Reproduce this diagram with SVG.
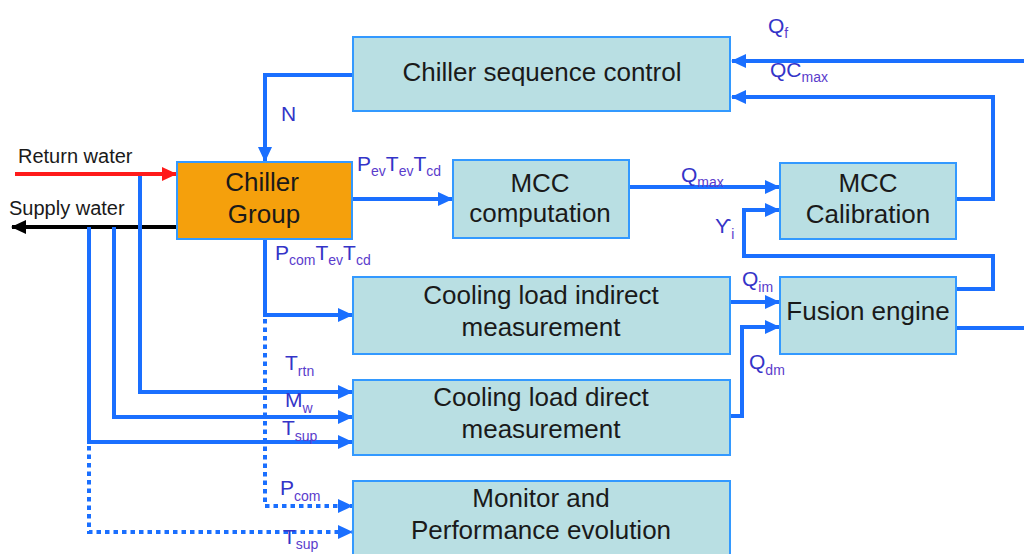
<svg xmlns="http://www.w3.org/2000/svg" width="1024" height="554" viewBox="0 0 1024 554">
<style>
.box{fill:#b9dfe3;stroke:#3399ff;stroke-width:2}
.orange{fill:#f5a00c;stroke:#3399ff;stroke-width:2}
.t{font-family:"Liberation Sans",Arial,sans-serif;font-size:26px;fill:#1a1a1a;text-anchor:middle}
.w{font-family:"Liberation Sans",Arial,sans-serif;font-size:20px;fill:#1a1a1a}
.lb{font-family:"Liberation Sans",Arial,sans-serif;font-size:21px;fill:#3434c8}
.sb{font-size:14px;fill:#5a3ccc}
.c{fill:none;stroke:#1a6fff;stroke-width:4}
.d{fill:none;stroke:#1a6fff;stroke-width:4;stroke-dasharray:4.5 4}
</style>
<defs>
<marker id="ab" markerUnits="userSpaceOnUse" markerWidth="16" markerHeight="14" refX="14" refY="7" orient="auto"><path d="M0,0 L15,7 L0,14 z" fill="#1a6fff"/></marker>
<marker id="ar" markerUnits="userSpaceOnUse" markerWidth="16" markerHeight="14" refX="14" refY="7" orient="auto"><path d="M0,0 L15,7 L0,14 z" fill="#ff1a1a"/></marker>
<marker id="ak" markerUnits="userSpaceOnUse" markerWidth="16" markerHeight="14" refX="14" refY="7" orient="auto"><path d="M0,0 L15,7 L0,14 z" fill="#000"/></marker>
</defs>
<rect width="1024" height="554" fill="#fff"/>
<g id="connectors">
<path class="c" d="M353,75 H265 V161" marker-end="url(#ab)"/>
<path d="M15,174 H176" fill="none" stroke="#ff1a1a" stroke-width="4" marker-end="url(#ar)"/>
<path d="M177,227 H12" fill="none" stroke="#000" stroke-width="4" marker-end="url(#ak)"/>
<path class="c" d="M140,176 V392 H352" marker-end="url(#ab)"/>
<path class="c" d="M114,227 V417 H352" marker-end="url(#ab)"/>
<path class="c" d="M89,227 V442 H352" marker-end="url(#ab)"/>
<path class="d" d="M89,446 V532 H352" marker-end="url(#ab)"/>
<path class="c" d="M265,239 V315 H352" marker-end="url(#ab)"/>
<path class="d" d="M265,319 V506 H352" marker-end="url(#ab)"/>
<path class="c" d="M352,199 H452" marker-end="url(#ab)"/>
<path class="c" d="M629,187 H779" marker-end="url(#ab)"/>
<path class="c" d="M956,199 H993 V97 H732" marker-end="url(#ab)"/>
<path class="c" d="M1024,61 H732" marker-end="url(#ab)"/>
<path class="c" d="M956,289 H993 V256 H744 V210 H779" marker-end="url(#ab)"/>
<path class="c" d="M956,328 H1024"/>
<path class="c" d="M730,302 H779" marker-end="url(#ab)"/>
<path class="c" d="M730,416 H742 V327 H779" marker-end="url(#ab)"/>
</g>
<g id="chiller-sequence-control"><rect class="box" x="353" y="37" width="377" height="74"/><text class="t" x="542" y="81">Chiller sequence control</text></g>
<g id="chiller-group"><rect class="orange" x="177" y="162" width="175" height="77"/><text class="t" x="262" y="191">Chiller</text><text class="t" x="264" y="223">Group</text></g>
<g id="mcc-computation"><rect class="box" x="453" y="160" width="176" height="78"/><text class="t" x="540" y="192">MCC</text><text class="t" x="540" y="222">computation</text></g>
<g id="mcc-calibration"><rect class="box" x="780" y="163" width="176" height="76"/><text class="t" x="868" y="192">MCC</text><text class="t" x="868" y="223">Calibration</text></g>
<g id="cooling-load-indirect"><rect class="box" x="353" y="277" width="377" height="77"/><text class="t" x="541" y="304">Cooling load indirect</text><text class="t" x="541" y="336">measurement</text></g>
<g id="fusion-engine"><rect class="box" x="780" y="277" width="176" height="77"/><text class="t" x="868" y="320">Fusion engine</text></g>
<g id="cooling-load-direct"><rect class="box" x="353" y="380" width="377" height="75"/><text class="t" x="541" y="406">Cooling load direct</text><text class="t" x="541" y="438">measurement</text></g>
<g id="monitor"><rect class="box" x="353" y="481" width="377" height="80"/><text class="t" x="541" y="507">Monitor and</text><text class="t" x="541" y="539">Performance evolution</text></g>
<g id="labels">
<text class="w" x="18" y="163">Return water</text>
<text class="w" x="9" y="215">Supply water</text>
<text class="lb" x="281" y="121">N</text>
<text class="lb" x="357" y="171">P<tspan class="sb" dy="5">ev</tspan><tspan dy="-5">T</tspan><tspan class="sb" dy="5">ev</tspan><tspan dy="-5">T</tspan><tspan class="sb" dy="5">cd</tspan></text>
<text class="lb" x="275" y="260">P<tspan class="sb" dy="5">com</tspan><tspan dy="-5">T</tspan><tspan class="sb" dy="5">ev</tspan><tspan dy="-5">T</tspan><tspan class="sb" dy="5">cd</tspan></text>
<text class="lb" x="768" y="33">Q<tspan class="sb" dy="5">f</tspan></text>
<text class="lb" x="770" y="77">QC<tspan class="sb" dy="5">max</tspan></text>
<text class="lb" x="681" y="182">Q<tspan class="sb" dy="5">max</tspan></text>
<text class="lb" x="715" y="233" font-size="16" font-family="DejaVu Sans, sans-serif">ϒ<tspan class="sb" dy="6" font-family="Liberation Sans, sans-serif">i</tspan></text>
<text class="lb" x="742" y="286">Q<tspan class="sb" dy="6">im</tspan></text>
<text class="lb" x="749" y="369">Q<tspan class="sb" dy="6">dm</tspan></text>
<text class="lb" x="285" y="370">T<tspan class="sb" dy="6">rtn</tspan></text>
<text class="lb" x="285" y="407">M<tspan class="sb" dy="6">w</tspan></text>
<text class="lb" x="282" y="435">T<tspan class="sb" dy="6">sup</tspan></text>
<text class="lb" x="280" y="495">P<tspan class="sb" dy="6">com</tspan></text>
<text class="lb" x="283" y="544">T<tspan class="sb" dy="5">sup</tspan></text>
</g>
</svg>
